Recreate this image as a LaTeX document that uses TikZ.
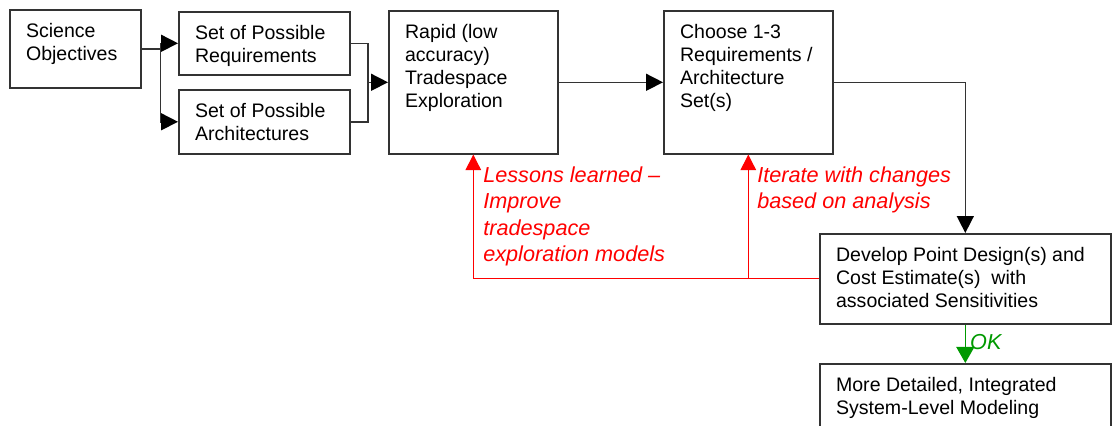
\documentclass[tikz,border=0pt]{standalone}
\usepackage{fontspec}
\setmainfont{Liberation Sans}
\usetikzlibrary{arrows.meta, positioning, calc}
\definecolor{boxline}{HTML}{333333}
\definecolor{loopred}{HTML}{FF0000}
\definecolor{okgreen}{HTML}{009900}

\tikzset{
  blk/.style={draw=boxline, line width=1.1pt, anchor=north west, inner sep=0pt},
  blktxt/.style={anchor=north west, inner sep=0pt, label distance=0pt, xshift=0.42cm, yshift=-0.34cm,
    align=left, font=\fontsize{13.9}{16.4}\selectfont, text=black},
  ln/.style={draw=boxline, line width=1.1pt},
  tipblk/.style={-{Triangle[length=12pt, width=12pt, color=black]}},
  fb/.style={draw=loopred, line width=0.9pt},
  fbtxt/.style={text=loopred, font=\fontsize{15.4}{18.5}\selectfont\itshape, align=left, anchor=north west, inner sep=0pt}
}

\begin{document}
\begin{tikzpicture}[x=0.025cm, y=-0.025cm]
    \useasboundingbox (0,0) rectangle (1112,426);

    % boxes
    \node[blk, minimum width=3.275cm, minimum height=1.95cm, label={[blktxt]north west:Science\\Objectives}] (sci) at (9,9) {};
    \node[blk, minimum width=4.275cm, minimum height=1.575cm, label={[blktxt]north west:Set of Possible\\Requirements}] (req) at (178,11) {};
    \node[blk, minimum width=4.275cm, minimum height=1.6cm, label={[blktxt]north west:Set of Possible\\Architectures}] (arch) at (178,89) {};
    \node[blk, minimum width=4.225cm, minimum height=3.575cm, label={[blktxt]north west:Rapid (low\\accuracy)\\Tradespace\\Exploration}] (rapid) at (388,10) {};
    \node[blk, minimum width=4.225cm, minimum height=3.575cm, label={[blktxt]north west:Choose 1-3\\Requirements /\\Architecture\\Set(s)}] (choose) at (663,10) {};
    \node[blk, minimum width=7.275cm, minimum height=2.25cm, label={[blktxt]north west:Develop Point Design(s) and\\Cost Estimate(s)\ \ with\\associated Sensitivities}] (dev) at (819,233) {};
    \node[blk, minimum width=7.275cm, minimum height=2.2cm, label={[blktxt]north west:More Detailed, Integrated\\System-Level Modeling}] (more) at (819,363) {};

    % forward flow
    \coordinate (fork) at ($(sci.east)+(19,0)$);
    \coordinate (join) at ($(rapid.west)+(-20,0)$);
    \draw[ln] (sci.east) -- (fork);
    \draw[ln, tipblk] (fork) |- (req.west);
    \draw[ln, tipblk] (fork) |- (arch.west);
    \draw[ln] (req.east) -| (join);
    \draw[ln] (arch.east) -| (join);
    \draw[ln, tipblk] (join) -- (rapid.west);
    \draw[ln, tipblk] (rapid.east) -- (choose.west);
    \draw[ln, tipblk] (choose.east) -| (dev.north);

    % OK path
    \draw[draw=okgreen, line width=0.9pt, -{Triangle[length=11.4pt, width=12.8pt]}] (dev.south) -- node[right, text=okgreen, font=\fontsize{15.4}{18.5}\selectfont\itshape, inner sep=3pt, yshift=1pt] (ok) {OK} (more.north);

    % feedback loops
    \draw[fb, -{Triangle[length=11pt, width=11pt, color=loopred]}] (dev.west) -| (rapid.south);
    \draw[fb, -{Triangle[length=11pt, width=11pt, color=loopred]}] (choose.south |- dev.west) -- (choose.south);
    \node[fbtxt] (lessons) at (483,167) {Lessons learned --\\Improve\\tradespace\\exploration models};
    \node[fbtxt] (iterate) at (757,167) {Iterate with changes\\based on analysis};
\end{tikzpicture}
\end{document}
